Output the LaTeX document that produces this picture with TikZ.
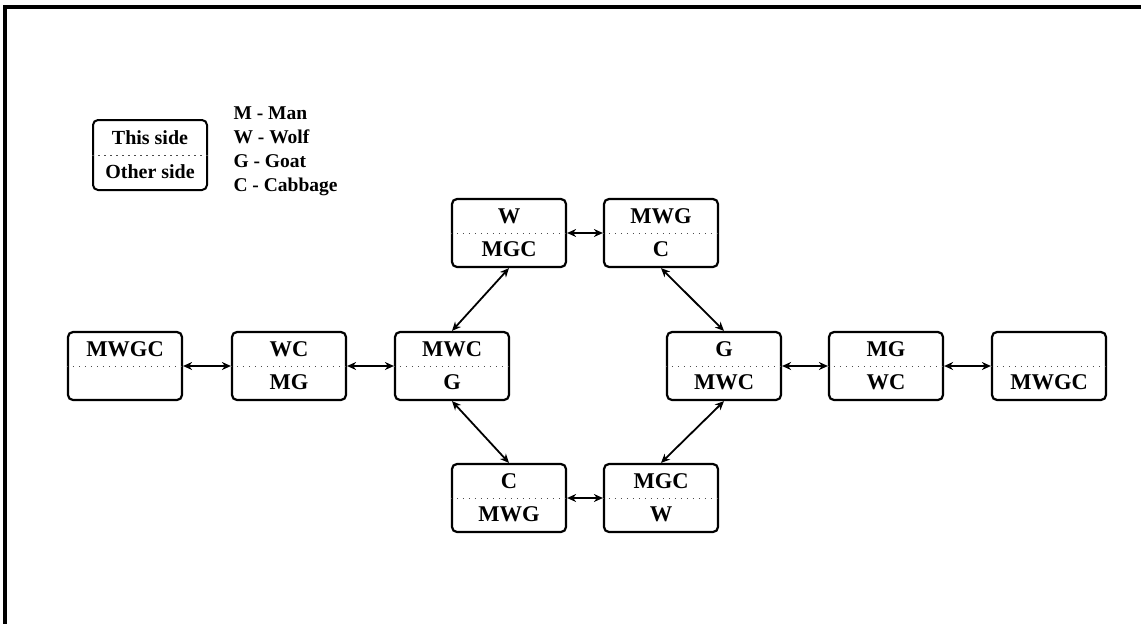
\documentclass[tikz,border=0pt]{standalone}
\usepackage{fontspec}
\setmainfont{Liberation Serif}
\usetikzlibrary{arrows.meta}

\begin{document}
\begin{tikzpicture}[x=1pt,y=-1pt,
  st/.style={draw,line width=2.2pt,rounded corners=5pt,
             minimum width=114pt,minimum height=68pt,inner sep=0pt,
             align=center,font=\fontsize{22.5}{33}\selectfont\bfseries},
  key/.style={draw,line width=2pt,rounded corners=5pt,
              minimum width=114pt,minimum height=70pt,inner sep=0pt,
              align=center,font=\fontsize{20}{34}\selectfont\bfseries},
  mid/.style={line width=0.7pt,dash pattern=on 1.5pt off 4.5pt,black!70},
  a/.style={{Stealth[length=9pt,width=8pt]}-{Stealth[length=9pt,width=8pt]},line width=1.8pt}]
  \useasboundingbox (0,0) rectangle (1141,624);
  % frame
  \draw[line width=3.5pt] (5,624) -- (5,7) -- (1141,7);
  % legend
  \node[key] (leg) at (150,155) {This side\\Other side};
  \node[anchor=west,align=left,font=\fontsize{19.5}{24}\selectfont\bfseries] (names) at (230,151)
    {M - Man\\W - Wolf\\G - Goat\\C - Cabbage};
  % states
  \node[st] (s1) at (125,366) {MWGC\\\vphantom{M}};
  \node[st] (s2) at (289,366) {WC\\MG};
  \node[st] (s3) at (452,366) {MWC\\G};
  \node[st] (t1) at (509,233) {W\\MGC};
  \node[st] (t2) at (661,233) {MWG\\C};
  \node[st] (u1) at (509,498) {C\\MWG};
  \node[st] (u2) at (661,498) {MGC\\W};
  \node[st] (s4) at (724,366) {G\\MWC};
  \node[st] (s5) at (886,366) {MG\\WC};
  \node[st] (s6) at (1049,366) {\vphantom{M}\\MWGC};
  \foreach \n in {leg,s1,s2,s3,t1,t2,u1,u2,s4,s5,s6}
    \draw[mid] (\n.west) -- (\n.east);
  % moves
  \draw[a] (s1) -- (s2);
  \draw[a] (s2) -- (s3);
  \draw[a] (s3.north) -- (t1.south);
  \draw[a] (s3.south) -- (u1.north);
  \draw[a] (t1) -- (t2);
  \draw[a] (u1) -- (u2);
  \draw[a] (t2.south) -- (s4.north);
  \draw[a] (u2.north) -- (s4.south);
  \draw[a] (s4) -- (s5);
  \draw[a] (s5) -- (s6);
\end{tikzpicture}
\end{document}
